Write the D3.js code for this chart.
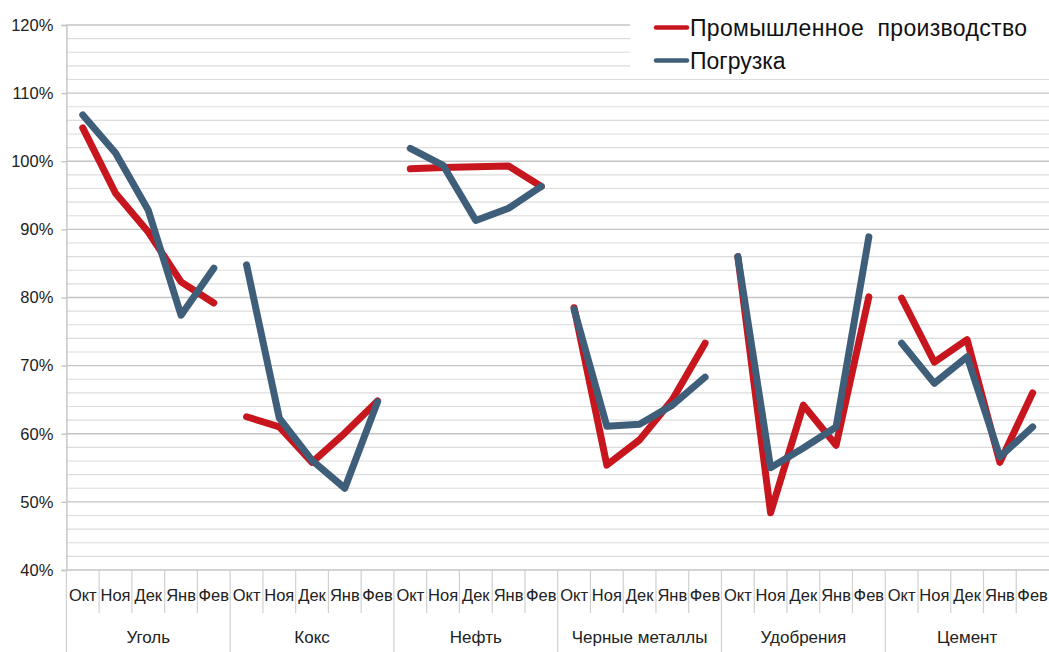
<!DOCTYPE html>
<html><head><meta charset="utf-8">
<script src="https://cdn.jsdelivr.net/npm/d3@7"></script>
<style>
body{margin:0;background:#fff;}
svg{display:block;font-family:"Liberation Sans",Arial,sans-serif;}
</style></head>
<body><svg id="c" width="1049" height="652"></svg>
<script>
const groups = ["Уголь","Кокс","Нефть","Черные металлы","Удобрения","Цемент"];
const months = ["Окт","Ноя","Дек","Янв","Фев"];
const seriesNames = ["Промышленное  производство","Погрузка"];
const seriesColors = ["#C8161F","#3F5E7A"];
const industry = [104.9,95.3,89.6,82.3,79.2, 62.5,61.0,55.8,60.1,64.8, 98.9,99.1,99.2,99.3,96.3, 78.5,55.4,59.1,65.0,73.3, 86.0,48.4,64.2,58.3,80.1, 79.9,70.5,73.8,55.8,66.0];
const loading  = [106.8,101.2,92.8,77.4,84.3, 84.8,62.3,56.1,52.0,64.7, 101.9,99.4,91.3,93.1,96.3, 78.3,61.1,61.4,64.2,68.3, 86.0,55.0,57.9,61.0,88.9, 73.3,67.4,71.3,56.6,61.0];
const yTicks = [40,50,60,70,80,90,100,110,120];

const svg = d3.select("#c");
const x0 = 66.4, x1 = 1049, yTop = 25, yBot = 570;
const keys = [];
groups.forEach((g,gi)=>months.forEach((m,mi)=>keys.push(gi+"|"+mi)));
const x = d3.scaleBand().domain(keys).range([x0,x1]).padding(0);
const xg = d3.scaleBand().domain(groups).range([x0,x1]).padding(0);
const y = d3.scaleLinear().domain([40,120]).range([yBot,yTop]);

// minor gridlines
const minor = d3.range(42,121,2).filter(v=>v%10!==0);
svg.append("g").selectAll("line").data(minor).join("line")
  .attr("x1",x0).attr("x2",x1).attr("y1",d=>y(d)).attr("y2",d=>y(d))
  .attr("stroke","#dcdcdc").attr("stroke-width",1.2);
// major gridlines
svg.append("g").selectAll("line").data(yTicks.filter(v=>v>40)).join("line")
  .attr("x1",x0).attr("x2",x1).attr("y1",d=>y(d)).attr("y2",d=>y(d))
  .attr("stroke","#c4c4c4").attr("stroke-width",1.4);

// y axis
const yAxis = svg.append("g").attr("transform",`translate(${x0},0)`)
  .call(d3.axisLeft(y).tickValues(yTicks).tickSize(5).tickPadding(8).tickFormat(d=>d+"%"));
yAxis.select(".domain").attr("stroke","#c4c4c4").attr("stroke-width",1.4);
yAxis.selectAll(".tick line").attr("stroke","#c4c4c4").attr("stroke-width",1.4);
yAxis.selectAll("text").attr("font-size",16.5).attr("fill","#222").attr("font-family","Liberation Sans, Arial, sans-serif");

// x axis baseline
svg.append("line").attr("x1",x0).attr("x2",x1).attr("y1",yBot).attr("y2",yBot)
  .attr("stroke","#c4c4c4").attr("stroke-width",1.4);
// month separators
svg.append("g").selectAll("line").data(keys.filter(k=>k.split("|")[1]!=="0")).join("line")
  .attr("x1",d=>x(d)).attr("x2",d=>x(d)).attr("y1",yBot).attr("y2",613)
  .attr("stroke","#d0d0d0").attr("stroke-width",1.2);
// group separators
svg.append("g").selectAll("line").data(groups).join("line")
  .attr("x1",d=>xg(d)).attr("x2",d=>xg(d)).attr("y1",yBot).attr("y2",652)
  .attr("stroke","#d0d0d0").attr("stroke-width",1.2);
// month labels
svg.append("g").selectAll("text").data(keys).join("text")
  .attr("x",d=>x(d)+x.bandwidth()/2).attr("y",601)
  .attr("text-anchor","middle").attr("font-size",16.5).attr("fill","#222")
  .text(d=>months[+d.split("|")[1]]);
// group labels
svg.append("g").selectAll("text").data(groups).join("text")
  .attr("x",d=>xg(d)+xg.bandwidth()/2).attr("y",643)
  .attr("text-anchor","middle").attr("font-size",17).attr("fill","#222")
  .text(d=>d);

// lines
[industry,loading].forEach((s,si)=>{
  groups.forEach((g,gi)=>{
    const seg = s.slice(gi*5,gi*5+5);
    svg.append("path").datum(seg)
      .attr("d",d3.line().x((d,i)=>x(gi+"|"+i)+x.bandwidth()/2).y(d=>y(d)))
      .attr("fill","none").attr("stroke",seriesColors[si]).attr("stroke-width",7)
      .attr("stroke-linecap","round").attr("stroke-linejoin","round");
  });
});

// legend
const lg = svg.append("g");
lg.append("rect").attr("x",630).attr("y",10).attr("width",419).attr("height",67).attr("fill","#fff");
seriesNames.forEach((n,i)=>{
  const yy = 27.5 + i*33;
  lg.append("line").attr("x1",656).attr("x2",687).attr("y1",yy).attr("y2",yy)
    .attr("stroke",seriesColors[i]).attr("stroke-width",4.5).attr("stroke-linecap","round");
  const t = lg.append("text").attr("x",690).attr("y",yy+8).attr("font-size",23).attr("fill","#111")
    .style("white-space","pre").text(n);
  if(i===0) t.attr("textLength",337).attr("lengthAdjust","spacing");
});
</script></body></html>
